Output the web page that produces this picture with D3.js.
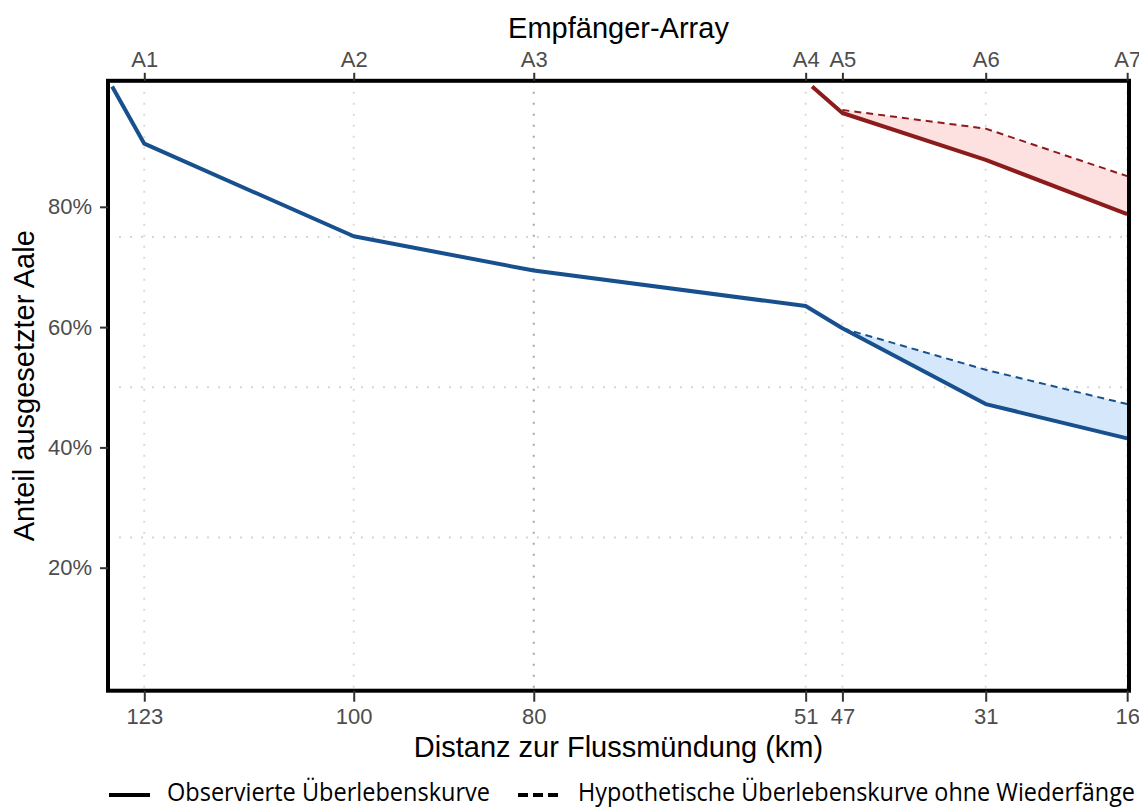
<!DOCTYPE html>
<html>
<head>
<meta charset="utf-8">
<script src="https://cdn.jsdelivr.net/npm/d3@7"></script>
<style>
  body { margin: 0; background: #fff; }
  .tick text { font-family: "Liberation Sans", Arial, sans-serif; font-size: 22px; fill: #4d4d4d; }
  .tick line { stroke: #333; stroke-width: 2; }
  .title { font-family: "Liberation Sans", Arial, sans-serif; font-size: 29px; fill: #000; }
  .legend text { font-family: "Open Sans", sans-serif; font-size: 25px; fill: #000; }
</style>
</head>
<body>
<div id="root"></div>
<script>
// receiver arrays and their distance to the river mouth (km)
const arrays = ['A1', 'A2', 'A3', 'A4', 'A5', 'A6', 'A7'];
const arrayKm = [123, 100.2, 80.6, 51, 47, 31.4, 16];
const kmLabels = ['123', '100', '80', '51', '47', '31', '16'];

const yTicks = [0.2, 0.4, 0.6, 0.8];
const yGrid = [0.25, 0.5, 0.75];

// blue group (released upstream)
const blueKm = [126.5, 123, 100.2, 80.6, 51, 47, 31.4, 16];
const blueObserved = [1, 0.905, 0.751, 0.694, 0.635, 0.598, 0.472, 0.415];
const blueHypoKm = [47, 31.4, 16];
const blueHypo = [0.598, 0.529, 0.472];

// red group (released below A4)
const redKm = [50.3, 47, 31.4, 16];
const redObserved = [1, 0.956, 0.878, 0.788];
const redHypoKm = [47, 31.4, 16];
const redHypo = [0.961, 0.930, 0.851];

const app = (function(d3) {

  const W = 1139;
  const H = 808;
  const margin = { top: 80.8, right: 10, bottom: 117.3, left: 108 };
  const left = margin.left, right = W - margin.right;
  const top = margin.top, bottom = H - margin.bottom;

  const blue = '#17508d';
  const red = '#8c1b1b';
  const blueFill = '#d5e7fb';
  const redFill = '#fde0e0';

  const svg = d3.select('#root')
    .append('svg')
      .attr('width', W)
      .attr('height', H);

  const x = d3.scaleLinear().domain([126.95, 15.8]).range([left, right]);
  const y = d3.scaleLinear().domain([-0.0045, 1.0095]).range([bottom, top]);

  // grid
  svg.append('g')
    .selectAll('line')
    .data(yGrid)
    .enter().append('line')
      .attr('x1', left).attr('x2', right)
      .attr('y1', (d) => y(d)).attr('y2', (d) => y(d))
      .attr('stroke', '#d6d6d6')
      .attr('stroke-width', 2)
      .attr('stroke-dasharray', '2,9');

  svg.append('g')
    .selectAll('line')
    .data(arrayKm)
    .enter().append('line')
      .attr('x1', (d) => x(d)).attr('x2', (d) => x(d))
      .attr('y1', top).attr('y2', bottom)
      .attr('stroke', (d, i) => i === 2 ? '#a8a8a8' : '#dadada')
      .attr('stroke-width', 2)
      .attr('stroke-dasharray', '2,9');

  // ribbons between observed and hypothetical
  function ribbon(km, lo, hi, fill) {
    const rows = km.map((k, i) => ({ k: k, lo: lo[i], hi: hi[i] }));
    svg.append('path')
      .datum(rows)
      .attr('fill', fill)
      .attr('d', d3.area()
        .x((d) => x(d.k))
        .y0((d) => y(d.lo))
        .y1((d) => y(d.hi)));
  }
  ribbon(blueHypoKm, blueObserved.slice(-3), blueHypo, blueFill);
  ribbon(redHypoKm, redObserved.slice(-3), redHypo, redFill);

  const line = d3.line().x((d) => x(d[0])).y((d) => y(d[1]));

  function drawLine(km, vals, color, dashed) {
    svg.append('path')
      .datum(km.map((k, i) => [k, vals[i]]))
      .attr('fill', 'none')
      .attr('stroke', color)
      .attr('stroke-width', dashed ? 2 : 4)
      .attr('stroke-dasharray', dashed ? '7,5' : null)
      .attr('stroke-linejoin', 'round')
      .attr('d', line);
  }
  drawLine(blueHypoKm, blueHypo, blue, true);
  drawLine(redHypoKm, redHypo, red, true);
  drawLine(blueKm, blueObserved, blue, false);
  drawLine(redKm, redObserved, red, false);

  // panel border
  svg.append('rect')
    .attr('x', left).attr('y', top)
    .attr('width', right - left).attr('height', bottom - top)
    .attr('fill', 'none')
    .attr('stroke', '#000')
    .attr('stroke-width', 4);

  // axes
  const xTop = d3.axisTop(x)
    .tickValues(arrayKm)
    .tickFormat((d, i) => arrays[i])
    .tickSizeInner(8).tickSizeOuter(0).tickPadding(6);

  const xBottom = d3.axisBottom(x)
    .tickValues(arrayKm)
    .tickFormat((d, i) => kmLabels[i])
    .tickSizeInner(11).tickSizeOuter(0).tickPadding(7);

  const yAxis = d3.axisLeft(y)
    .tickValues(yTicks)
    .tickFormat(d3.format('.0%'))
    .tickSizeInner(8).tickSizeOuter(0).tickPadding(8);

  svg.append('g')
    .attr('transform', `translate(0, ${top})`)
    .call(xTop)
    .call((g) => g.select('.domain').remove());

  svg.append('g')
    .attr('transform', `translate(0, ${bottom})`)
    .call(xBottom)
    .call((g) => g.select('.domain').remove());

  svg.append('g')
    .attr('transform', `translate(${left}, 0)`)
    .call(yAxis)
    .call((g) => g.select('.domain').remove());

  // titles
  const cx = (left + right) / 2;
  svg.append('text').attr('class', 'title')
    .attr('x', cx).attr('y', 38)
    .attr('text-anchor', 'middle')
    .text('Empfänger-Array');

  svg.append('text').attr('class', 'title')
    .attr('x', cx).attr('y', 757)
    .attr('text-anchor', 'middle')
    .text('Distanz zur Flussmündung (km)');

  svg.append('text').attr('class', 'title')
    .attr('transform', `translate(34, ${(top + bottom) / 2}) rotate(-90)`)
    .attr('text-anchor', 'middle')
    .text('Anteil ausgesetzter Aale');

  // legend
  const legend = svg.append('g').attr('class', 'legend');
  legend.append('line')
    .attr('x1', 109).attr('x2', 150).attr('y1', 795).attr('y2', 795)
    .attr('stroke', '#000').attr('stroke-width', 4);
  legend.append('text')
    .attr('x', 167).attr('y', 801)
    .attr('textLength', 323).attr('lengthAdjust', 'spacingAndGlyphs')
    .text('Observierte Überlebenskurve');
  legend.append('line')
    .attr('x1', 518).attr('x2', 560).attr('y1', 795).attr('y2', 795)
    .attr('stroke', '#000').attr('stroke-width', 4)
    .attr('stroke-dasharray', '10,5');
  legend.append('text')
    .attr('x', 578).attr('y', 801)
    .attr('textLength', 557).attr('lengthAdjust', 'spacingAndGlyphs')
    .text('Hypothetische Überlebenskurve ohne Wiederfänge');

})(d3);
</script>
</body>
</html>
